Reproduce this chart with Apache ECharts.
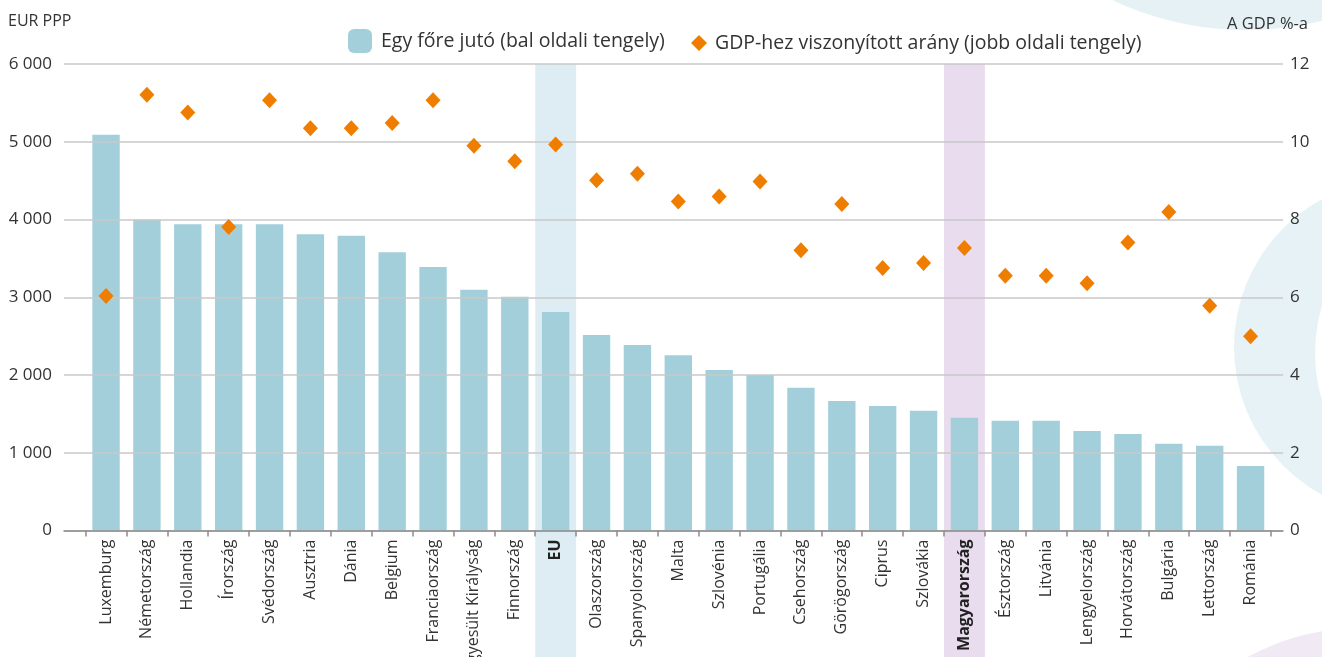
<!DOCTYPE html>
<html>
<head>
<meta charset="utf-8">
<script src="https://cdn.jsdelivr.net/npm/echarts@6/dist/echarts.min.js"></script>
<style>
html,body{margin:0;padding:0;background:#fff;}
#chart{width:1322px;height:657px;}
</style>
</head>
<body>
<div id="chart"></div>
<script>
// ---- Data ----
const categories = ['Luxemburg','Németország','Hollandia','Írország','Svédország','Ausztria','Dánia','Belgium','Franciaország','Egyesült Királyság','Finnország','EU','Olaszország','Spanyolország','Malta','Szlovénia','Portugália','Csehország','Görögország','Ciprus','Szlovákia','Magyarország','Észtország','Litvánia','Lengyelország','Horvátország','Bulgária','Lettország','Románia'];
const perCapita = [5090,4000,3940,3940,3940,3810,3790,3580,3390,3095,3005,2810,2515,2385,2255,2065,2000,1835,1665,1600,1540,1450,1410,1410,1280,1240,1115,1090,830];
const gdpShare = [6.03,11.21,10.75,7.81,11.07,10.35,10.35,10.48,11.07,9.90,9.50,9.93,9.01,9.18,8.46,8.59,8.98,7.21,8.40,6.75,6.88,7.27,6.55,6.55,6.36,7.41,8.19,5.78,5.00];
const leftTicks = [0,1000,2000,3000,4000,5000,6000];
const rightTicks = [0,2,4,6,8,10,12];
const highlighted = ['EU','Magyarország'];
const seriesNames = ['Egy főre jutó (bal oldali tengely)','GDP-hez viszonyított arány (jobb oldali tengely)'];
const axisNames = ['EUR PPP','A GDP %-a'];

// ---- Styles ----
const FONT = "'Open Sans', Roboto, 'Noto Sans', sans-serif";
const TEXT = '#333333';
const BAR = '#a3cfdb';
const DIAMOND = '#ef7d00';
const BAND = {'EU':'#deedf3','Magyarország':'#e8dcee'};
const GRIDLINE = '#c9c9c9';
const AXIS = '#8c8c8c';

const fmtThousands = v => String(v).replace(/\B(?=(\d{3})+(?!\d))/g, ' ');

const chart = echarts.init(document.getElementById('chart'), null, {renderer:'canvas'});
const base = {containLabel:false, outerBoundsMode:'none'};
const G0 = Object.assign({left:64, right:39, top:64, bottom:126.5}, base);
const G1 = Object.assign({left:85.6, right:51, top:64, bottom:126.5}, base);
const G2 = Object.assign({left:85.6, right:51, top:64, bottom:0}, base);

const option = {
  animation:false,
  textStyle:{fontFamily:FONT},
  graphic:{elements:[
    {type:'circle', z:-20, silent:true, shape:{cx:1246, cy:-283, r:313}, style:{fill:'#e5f1f5'}},
    {type:'circle', z:-20, silent:true, shape:{cx:1402, cy:347, r:168}, style:{fill:'#e6f2f6'}},
    {type:'circle', z:-19, silent:true, shape:{cx:1476, cy:353, r:161}, style:{fill:'#ffffff'}},
    {type:'circle', z:-20, silent:true, shape:{cx:1360, cy:860, r:232}, style:{fill:'#f1e9f4'}}
  ]},
  title:[
    {text:axisNames[0], left:3, top:8, textStyle:{fontSize:16, fontWeight:'normal', color:TEXT, fontFamily:FONT}},
    {text:axisNames[1], right:9, top:11, textStyle:{fontSize:16.5, fontWeight:'normal', color:TEXT, fontFamily:FONT}}
  ],
  legend:[
    {data:[seriesNames[0]], left:343, top:24, itemWidth:24, itemHeight:24,
     textStyle:{fontSize:19.5, color:TEXT, fontFamily:FONT, padding:[0,0,0,4]}},
    {data:[seriesNames[1]], left:686, top:28, itemWidth:16, itemHeight:16,
     textStyle:{fontSize:19.5, color:TEXT, fontFamily:FONT, padding:[0,0,0,3]}}
  ],
  grid:[G0, G1, G2],
  xAxis:[
    {gridIndex:0, type:'value', min:0, max:1, z:3,
     axisLine:{show:true, lineStyle:{color:AXIS, width:1.5}}, axisTick:{show:false}, axisLabel:{show:false}, splitLine:{show:false}},
    {gridIndex:1, type:'category', data:categories, z:3,
     axisLine:{show:false},
     axisTick:{show:true, length:6, interval:0, lineStyle:{color:AXIS, width:1.5}},
     axisLabel:{interval:0, rotate:90, margin:9, fontSize:16, color:TEXT, fontFamily:FONT,
       formatter: v => highlighted.includes(v) ? '{b|' + v + '}' : v,
       rich:{b:{fontWeight:'bold', fontSize:16, color:'#222', fontFamily:FONT}}}},
    {gridIndex:2, type:'category', data:categories, show:false}
  ],
  yAxis:[
    {gridIndex:0, type:'value', min:leftTicks[0], max:leftTicks[leftTicks.length-1], interval:leftTicks[1]-leftTicks[0], z:3,
     axisLine:{show:false}, axisTick:{show:false},
     axisLabel:{margin:12, fontSize:17, color:TEXT, fontFamily:FONT, formatter:fmtThousands},
     splitLine:{show:true, lineStyle:{color:GRIDLINE, width:1.5}}},
    {gridIndex:0, type:'value', position:'right', min:rightTicks[0], max:rightTicks[rightTicks.length-1], interval:rightTicks[1]-rightTicks[0], z:3,
     axisLine:{show:false}, axisTick:{show:false},
     axisLabel:{margin:7, fontSize:17, color:TEXT, fontFamily:FONT},
     splitLine:{show:false}},
    {gridIndex:1, type:'value', min:leftTicks[0], max:leftTicks[leftTicks.length-1], show:false, splitLine:{show:false}},
    {gridIndex:1, type:'value', min:rightTicks[0], max:rightTicks[rightTicks.length-1], show:false, splitLine:{show:false}},
    {gridIndex:2, type:'value', min:0, max:1, show:false, splitLine:{show:false}}
  ],
  series:[
    {name:'band', type:'bar', xAxisIndex:2, yAxisIndex:4, barWidth:'100%', silent:true, z:-1,
     data:categories.map(c => highlighted.includes(c) ? {value:1, itemStyle:{color:BAND[c]}} : '-')},
    {name:seriesNames[0], type:'bar', xAxisIndex:1, yAxisIndex:2, barWidth:'67%', z:2,
     itemStyle:{color:BAR}, data:perCapita},
    {name:seriesNames[1], type:'scatter', xAxisIndex:1, yAxisIndex:3, symbol:'diamond', symbolSize:[15,16], z:5,
     itemStyle:{color:DIAMOND, opacity:1}, data:gdpShare}
  ]
};
chart.setOption(option);
</script>
</body>
</html>
